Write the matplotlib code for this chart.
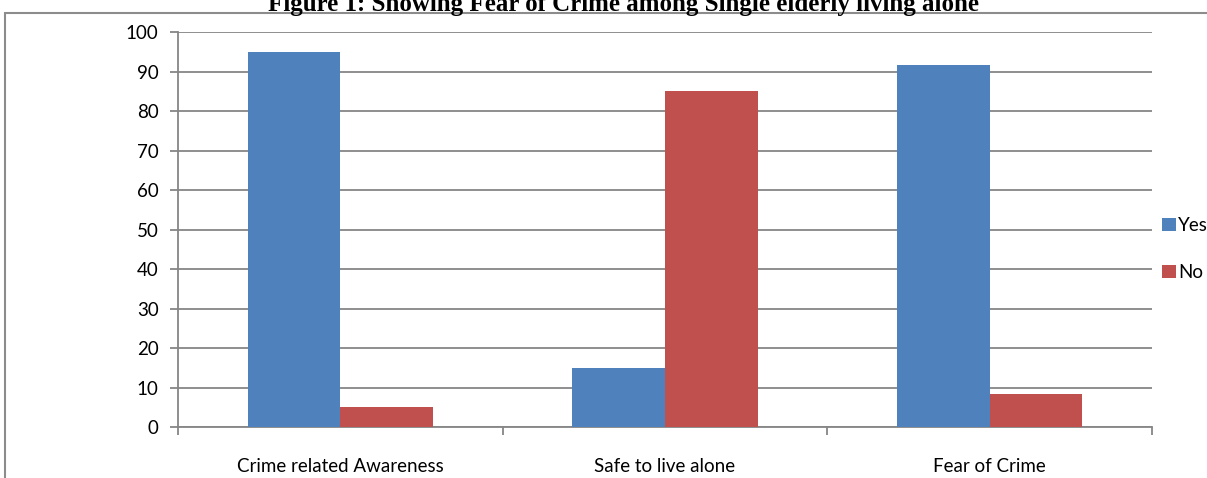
import numpy as np
import matplotlib.pyplot as plt
from matplotlib.patches import Rectangle

# Дані
categories = ['Crime related Awareness', 'Safe to live alone', 'Fear of Crime']
yes_values = [95, 15, 91.7]
no_values = [5, 85, 8.3]
series_names = ['Yes', 'No']
y_ticks = list(range(0, 101, 10))

blue = '#4F81BD'
red = '#C0504D'
grid_gray = '#868686'

plt.rcParams['font.family'] = ['Lato', 'DejaVu Sans']

fig = plt.figure(figsize=(12.07, 4.78), dpi=100)
ax = fig.add_axes([0.1475, 0.1067, 0.8069, 0.8263])

x = np.arange(len(categories))
width = 1 / 3.5
ax.bar(x - width / 2, yes_values, width, color=blue, label=series_names[0], zorder=3)
ax.bar(x + width / 2, no_values, width, color=red, label=series_names[1], zorder=3)

ax.set_xlim(-0.5, len(categories) - 0.5)
ax.set_ylim(0, 100)
ax.set_yticks(y_ticks)
ax.set_xticks(x)
ax.set_xticklabels(categories, fontsize=13.5)
ax.set_xticks(np.arange(-0.5, len(categories), 1), minor=True)
ax.tick_params(axis='x', which='major', length=0, pad=22)
ax.tick_params(axis='x', which='minor', length=6, width=1.3, color=grid_gray)
ax.tick_params(axis='y', length=6, width=1.3, color=grid_gray, labelsize=13.5, pad=8)

ax.yaxis.grid(True, color=grid_gray, linewidth=1.3, zorder=0)
for s in ['top', 'right']:
    ax.spines[s].set_visible(False)
for s in ['left', 'bottom']:
    ax.spines[s].set_color(grid_gray)
    ax.spines[s].set_linewidth(1.3)

ax.legend(loc='center left', bbox_to_anchor=(1.003, 0.45), frameon=False,
          fontsize=13.5, handlelength=0.7, handleheight=0.7,
          handletextpad=0.15, labelspacing=1.6, borderaxespad=0)

# Рамка навколо графіка
fig.patches.append(Rectangle((5 / 1207, -0.05), 1.2, 1 - 13 / 478 + 0.05,
                             transform=fig.transFigure, fill=False,
                             edgecolor='#8c8c8c', linewidth=1.5))

fig.text(0.5166, 1 - 11 / 478, 'Figure 1: Showing Fear of Crime among Single elderly living alone',
         ha='center', va='baseline', fontsize=18, fontweight='bold',
         family='Liberation Serif')

fig.savefig('out.png', dpi=100)
